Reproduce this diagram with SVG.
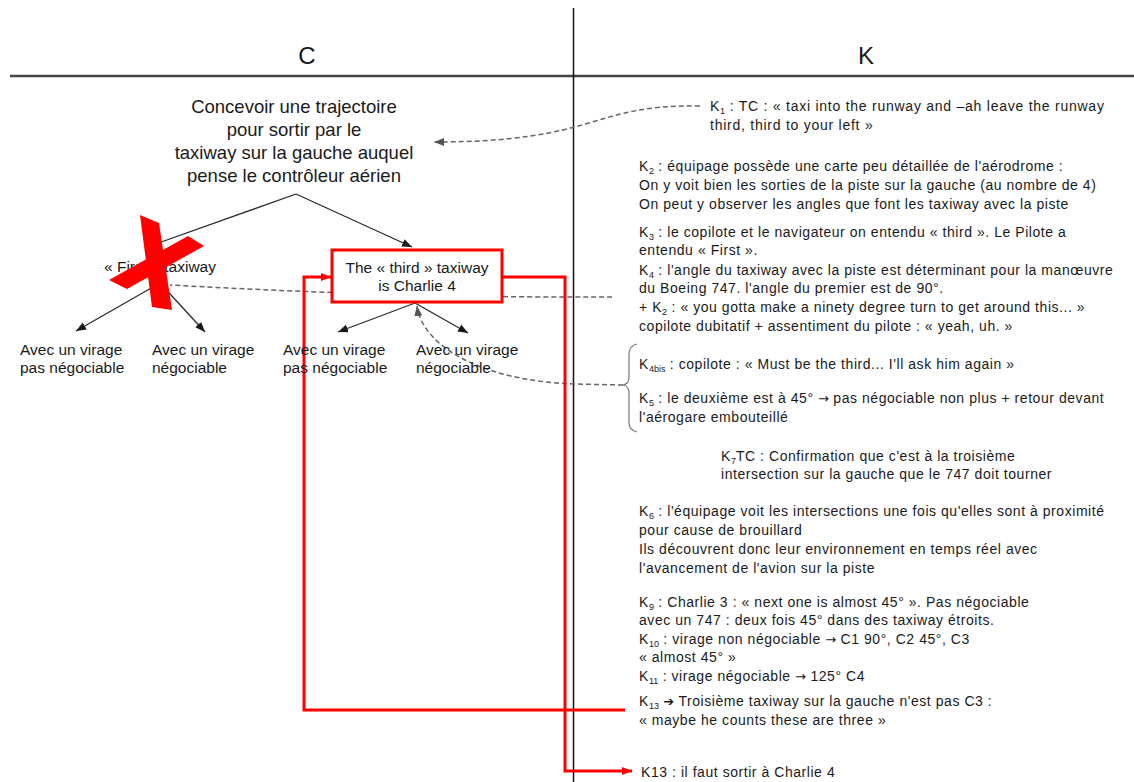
<svg xmlns="http://www.w3.org/2000/svg" width="1134" height="782" viewBox="0 0 1134 782">
<defs>
<marker id="ab" markerUnits="userSpaceOnUse" markerWidth="11" markerHeight="10" refX="10" refY="5" orient="auto"><path d="M0,1 L10,5 L0,9 z" fill="#1a1a1a"/></marker>
<marker id="ag" markerUnits="userSpaceOnUse" markerWidth="11" markerHeight="10" refX="10" refY="5" orient="auto"><path d="M0,1 L10,5 L0,9 z" fill="#555"/></marker>
<marker id="ar" markerUnits="userSpaceOnUse" markerWidth="11" markerHeight="10" refX="10" refY="5" orient="auto"><path d="M0,1 L10,5 L0,9 z" fill="#f00"/></marker>
<style>
text{font-family:"Liberation Sans",Arial,sans-serif;fill:#1a1a1a}
.h{font-size:24px;text-anchor:middle}
.t{font-size:18.5px;text-anchor:middle}
.l{font-size:15.5px}
.c{text-anchor:middle}
.r{font-size:14px;letter-spacing:0.55px}
.s{font-size:9px;letter-spacing:0}
.a{font-family:"DejaVu Sans",sans-serif;font-size:13px;letter-spacing:0}
.k{fill:none;stroke:#2a2a2a;stroke-width:1.3}
.d{fill:none;stroke:#666;stroke-width:1.5;stroke-dasharray:5 3}
.red{fill:none;stroke:#f00;stroke-width:3}
.brace{fill:none;stroke:#777;stroke-width:1.2}
</style>
</defs>
<rect width="1134" height="782" fill="#fff"/>

<g id="grid">
<line x1="10" y1="76" x2="1134" y2="76" stroke="#444" stroke-width="2.5"/>
<line x1="573.5" y1="8" x2="573.5" y2="782" stroke="#111" stroke-width="1.5"/>
<text class="h" x="307" y="64">C</text>
<text class="h" x="866" y="64">K</text>
</g>

<g id="connectors">
<path class="k" d="M296,194 L150,246" marker-end="url(#ab)"/>
<path class="k" d="M296,194 L412,247" marker-end="url(#ab)"/>
<path class="k" d="M160,283 L76,331" marker-end="url(#ab)"/>
<path class="k" d="M160,283 L205,332" marker-end="url(#ab)"/>
<path class="k" d="M415,303 L338,332" marker-end="url(#ab)"/>
<path class="k" d="M415,303 L468,333" marker-end="url(#ab)"/>
<path class="d" d="M700,106 C590,104 600,142 434,142" marker-end="url(#ag)"/>
<path class="d" d="M612,297 Q400,298 170,285"/>
<path class="d" d="M623,385 L575,384 C480,381 422,345 417,306" marker-end="url(#ag)"/>
<path class="red" d="M502,277 H565 V771 H632" marker-end="url(#ar)"/>
<path class="red" d="M625,710 H304 V277 H331" marker-end="url(#ar)"/>
<path class="brace" d="M637,344 Q629,346 629,354 L629,377 Q629,384 623,385 Q629,386 629,393 L629,423 Q629,430 637,432"/>
</g>

<g id="goal">
<text class="t" x="294" y="113">Concevoir une trajectoire</text>
<text class="t" x="294" y="136">pour sortir par le</text>
<text class="t" x="294" y="159">taxiway sur la gauche auquel</text>
<text class="t" x="294" y="182">pense le contrôleur aérien</text>
</g>

<g id="first">
<text class="l c" x="160" y="272">« First » taxiway</text>
</g>

<g id="third">
<rect x="332" y="250" width="170" height="52" fill="#fff" stroke="#f00" stroke-width="3"/>
<text class="l c" x="417" y="273">The « third » taxiway</text>
<text class="l c" x="417" y="291">is Charlie 4</text>
</g>

<g id="leaf1"><text class="l" x="20" y="355">Avec un virage</text><text class="l" x="20" y="373">pas négociable</text></g>
<g id="leaf2"><text class="l" x="152" y="355">Avec un virage</text><text class="l" x="152" y="373">négociable</text></g>
<g id="leaf3"><text class="l" x="283" y="355">Avec un virage</text><text class="l" x="283" y="373">pas négociable</text></g>
<g id="leaf4"><text class="l" x="416" y="355">Avec un virage</text><text class="l" x="416" y="373">négociable</text></g>

<g id="k1">
<text class="r" x="710" y="111" style="letter-spacing:0.75px">K<tspan class="s" dy="3">1</tspan><tspan dy="-3"> : TC : « taxi into the runway and –ah leave the runway</tspan></text>
<text class="r" x="710" y="130" style="letter-spacing:0.75px">third, third to your left »</text>
</g>

<g id="k2">
<text class="r" x="639" y="171">K<tspan class="s" dy="3">2</tspan><tspan dy="-3"> : équipage possède une carte peu détaillée de l'aérodrome :</tspan></text>
<text class="r" x="639" y="190">On y voit bien les sorties de la piste sur la gauche (au nombre de 4)</text>
<text class="r" x="639" y="209">On peut y observer les angles que font les taxiway avec la piste</text>
</g>

<g id="k3">
<text class="r" x="639" y="237">K<tspan class="s" dy="3">3</tspan><tspan dy="-3"> : le copilote et le navigateur on entendu « third ». Le Pilote a</tspan></text>
<text class="r" x="639" y="255">entendu « First ».</text>
<text class="r" x="639" y="275">K<tspan class="s" dy="3">4</tspan><tspan dy="-3"> : l'angle du taxiway avec la piste est déterminant pour la manœuvre</tspan></text>
<text class="r" x="639" y="293">du Boeing 747. l'angle du premier est de 90°.</text>
<text class="r" x="639" y="312">+ K<tspan class="s" dy="3">2</tspan><tspan dy="-3"> : « you gotta make a ninety degree turn to get around this... »</tspan></text>
<text class="r" x="639" y="331">copilote dubitatif + assentiment du pilote : « yeah, uh. »</text>
</g>

<g id="k4bis">
<text class="r" x="639" y="369">K<tspan class="s" dy="3">4bis</tspan><tspan dy="-3"> : copilote : « Must be the third... I'll ask him again »</tspan></text>
<text class="r" x="639" y="403">K<tspan class="s" dy="3">5</tspan><tspan dy="-3"> : le deuxième est à 45° </tspan><tspan class="a">→</tspan> pas négociable non plus + retour devant</text>
<text class="r" x="639" y="422">l'aérogare embouteillé</text>
</g>

<g id="k7">
<text class="r" x="721" y="461">K<tspan class="s" dy="3">7</tspan><tspan dy="-3">TC : Confirmation que c'est à la troisième</tspan></text>
<text class="r" x="721" y="479">intersection sur la gauche que le 747 doit tourner</text>
</g>

<g id="k6">
<text class="r" x="639" y="516">K<tspan class="s" dy="3">6</tspan><tspan dy="-3"> : l'équipage voit les intersections une fois qu'elles sont à proximité</tspan></text>
<text class="r" x="639" y="535">pour cause de brouillard</text>
<text class="r" x="639" y="554">Ils découvrent donc leur environnement en temps réel avec</text>
<text class="r" x="639" y="573">l'avancement de l'avion sur la piste</text>
</g>

<g id="k9">
<text class="r" x="639" y="607">K<tspan class="s" dy="3">9</tspan><tspan dy="-3"> : Charlie 3 : « next one is almost 45° ». Pas négociable</tspan></text>
<text class="r" x="639" y="625">avec un 747 : deux fois 45° dans des taxiway étroits.</text>
<text class="r" x="639" y="644">K<tspan class="s" dy="3">10</tspan><tspan dy="-3"> : virage non négociable </tspan><tspan class="a">→</tspan> C1 90°, C2 45°, C3</text>
<text class="r" x="639" y="662">« almost 45° »</text>
<text class="r" x="639" y="681">K<tspan class="s" dy="3">11</tspan><tspan dy="-3"> : virage négociable </tspan><tspan class="a">→</tspan> 125° C4</text>
</g>

<g id="k13">
<text class="r" x="639" y="706">K<tspan class="s" dy="3">13</tspan><tspan dy="-3"> </tspan><tspan class="a">➔</tspan> Troisième taxiway sur la gauche n'est pas C3 :</text>
<text class="r" x="639" y="725">« maybe he counts these are three »</text>
</g>

<g id="k13b">
<text class="r" x="641" y="777">K13 : il faut sortir à Charlie 4</text>
</g>

<g id="cross" fill="#f00">
<polygon points="140,215 159,223 172,310 152,307"/>
<polygon points="109,280 188,236 204,246 127,289"/>
</g>
</svg>
